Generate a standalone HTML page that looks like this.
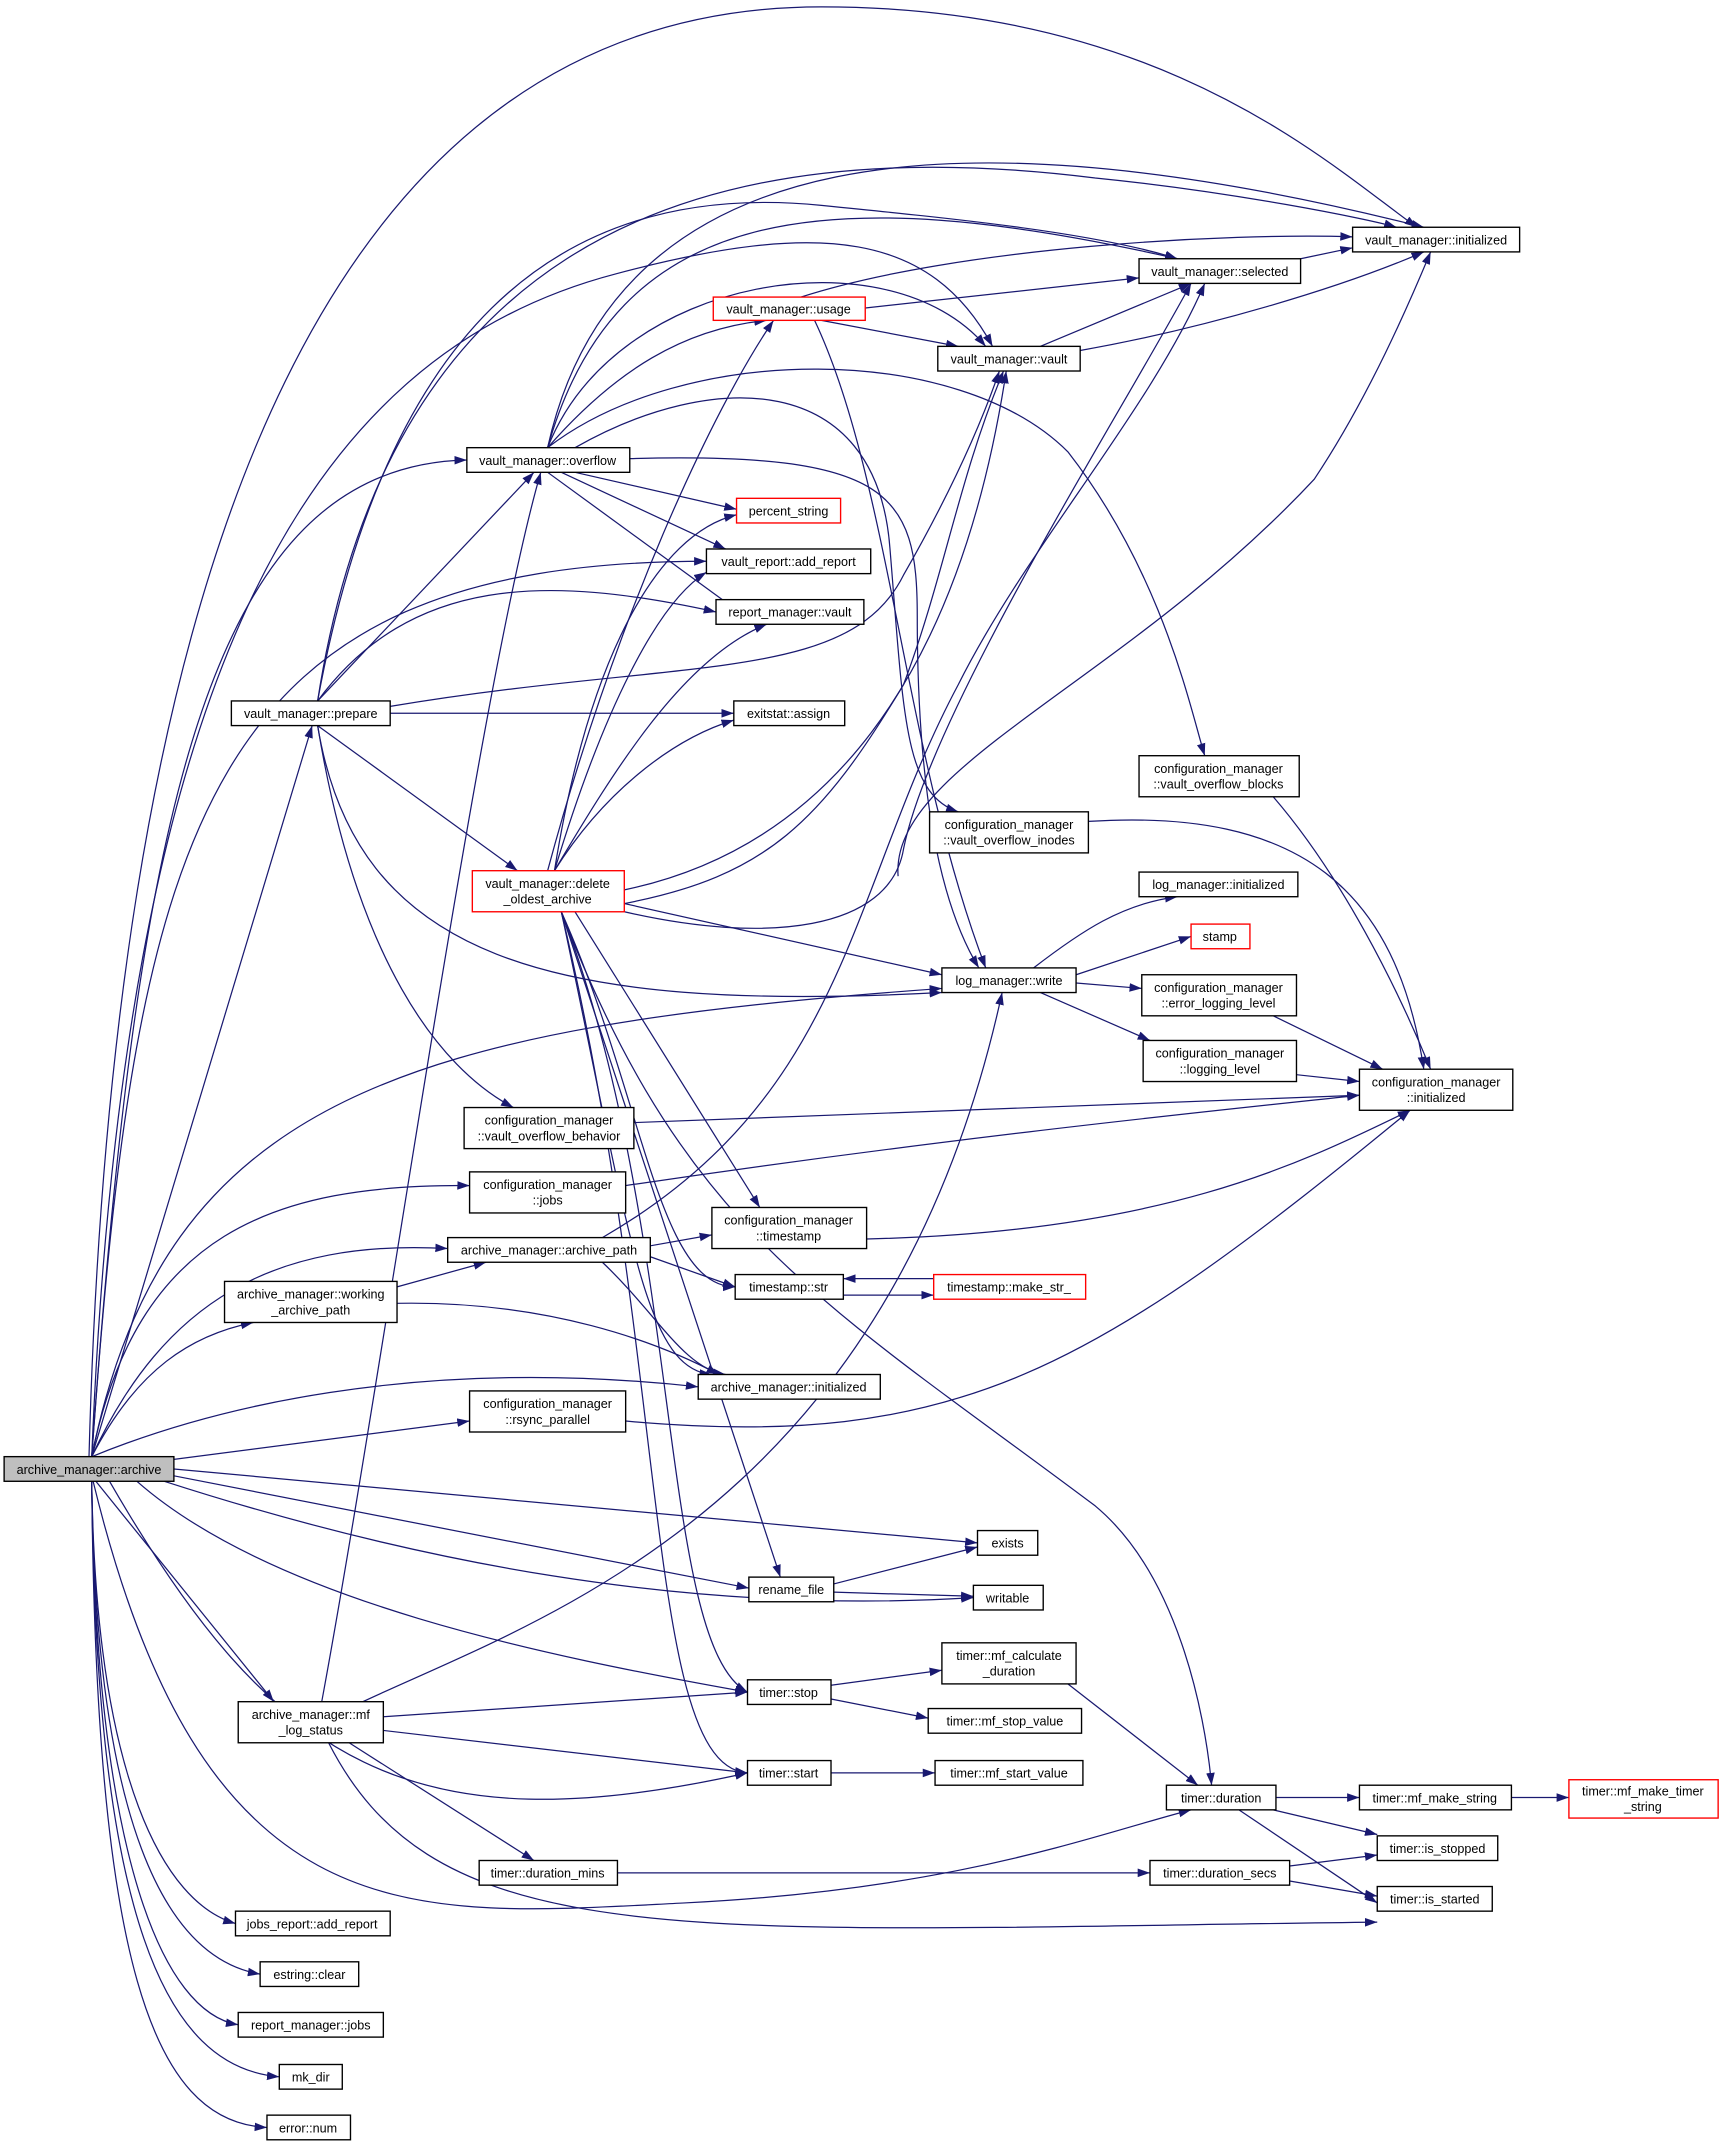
<!DOCTYPE html>
<html><head><meta charset="utf-8"><style>
html,body{margin:0;padding:0;background:#fff}
svg{display:block}
text{font-family:"Liberation Sans",Arial,sans-serif;font-size:9.2px;fill:#000}
.e{fill:none;stroke:#191970;stroke-width:0.9}
.n{fill:#fff;stroke:#000;stroke-width:1}
.r{fill:#fff;stroke:#f00;stroke-width:1}
</style></head><body>
<svg width="1725" height="2148" viewBox="0 0 1260 1569" xmlns="http://www.w3.org/2000/svg">
<defs><marker id="a" viewBox="0 0 10 10" refX="10" refY="5" markerWidth="9" markerHeight="9" markerUnits="userSpaceOnUse" orient="auto"><path d="M0,1.5 L10,5 L0,8.5z" fill="#191970"/></marker></defs>
<g class="e" marker-end="url(#a)">
<!-- from archive -->
<path d="M65,1064 C80,500 200,5 600,5 C850,5 970,120 1035,166"/>
<path d="M67,1064 C90,500 220,260 450,200 C600,160 680,170 725,253"/>
<path d="M67,1064 C100,600 150,340 341,336"/>
<path d="M67,1064 C100,600 150,410 516,410"/>
<path d="M67,1064 L228,530"/>
<path d="M67,1064 C120,800 300,750 688,722"/>
<path d="M67,1064 C100,900 200,865 343,866"/>
<path d="M67,1064 C120,950 200,905 327,912"/>
<path d="M67,1064 C100,1000 140,975 185,966"/>
<path d="M67,1064 C150,1030 300,990 510,1013"/>
<path d="M127,1066 L343,1038"/>
<path d="M127,1073 L714,1127"/>
<path d="M127,1078 L547,1160"/>
<path d="M120,1082 C300,1140 500,1180 711,1167"/>
<path d="M100,1082 C200,1170 400,1210 546,1236"/>
<path d="M80,1082 C200,1290 300,1350 546,1295"/>
<path d="M70,1082 L200,1243"/>
<path d="M68,1082 C150,1420 300,1400 500,1390 C700,1380 800,1340 870,1322"/>
<path d="M67,1082 C70,1300 120,1390 172,1405"/>
<path d="M67,1082 C70,1330 120,1430 190,1442"/>
<path d="M67,1082 C70,1360 120,1470 174,1479"/>
<path d="M67,1082 C70,1400 120,1510 204,1517"/>
<path d="M67,1082 C70,1430 110,1550 195,1554"/>
<!-- prepare -->
<path d="M232,512 C280,200 480,90 800,130 C900,140 1000,160 1020,166"/>
<path d="M232,512 C280,250 400,130 600,150 C700,160 800,170 860,189"/>
<path d="M232,512 L390,345"/>
<path d="M285,516 C500,480 620,500 660,420 C700,350 720,300 730,271"/>
<path d="M232,512 C300,420 400,420 523,447"/>
<path d="M285,521 L536,521"/>
<path d="M232,530 L378,636"/>
<path d="M232,530 C260,700 400,740 688,725"/>
<path d="M232,530 C260,700 320,780 375,809"/>
<!-- overflow -->
<path d="M400,327 C450,100 700,80 1040,166"/>
<path d="M400,327 C450,150 600,130 860,189"/>
<path d="M400,327 C450,200 650,170 720,253"/>
<path d="M400,327 C450,270 500,240 560,234"/>
<path d="M420,345 L538,372"/>
<path d="M410,345 L530,401"/>
<path d="M400,345 L540,447"/>
<path d="M400,327 C500,250 700,250 780,330 C850,420 870,520 880,552"/>
<path d="M460,335 C650,330 670,360 670,450 C670,550 680,650 715,707"/>
<path d="M420,327 C520,270 640,270 650,400 C660,520 660,580 700,593"/>
<!-- usage -->
<path d="M632,225 L832,203"/>
<path d="M600,234 L700,253"/>
<path d="M585,217 C700,180 900,170 988,173"/>
<path d="M595,234 C650,350 660,550 720,707"/>
<!-- selected / vault -->
<path d="M950,189 L988,181"/>
<path d="M760,253 L870,207"/>
<path d="M789,256 C880,240 980,210 1040,184"/>
<!-- delete oldest -->
<path d="M400,636 C450,450 520,300 565,234"/>
<path d="M456,650 C600,620 700,500 735,271"/>
<path d="M456,666 C560,690 650,680 660,620 C680,520 820,300 870,207"/>
<path d="M456,660 C560,640 600,600 660,500 C690,420 700,350 733,271"/>
<path d="M405,636 C430,480 480,390 538,376"/>
<path d="M405,636 C440,520 480,440 516,418"/>
<path d="M405,636 C450,560 500,480 560,456"/>
<path d="M405,636 C440,580 490,540 536,526"/>
<path d="M456,660 L688,712"/>
<path d="M420,666 L555,882"/>
<path d="M410,666 C470,800 480,940 537,940"/>
<path d="M410,666 C460,900 470,1000 520,1004"/>
<path d="M410,666 L570,1152"/>
<path d="M410,666 C500,900 480,1200 546,1236"/>
<path d="M410,666 C490,1000 470,1290 546,1295"/>
<path d="M410,666 C500,900 600,950 800,1100 C860,1150 880,1250 885,1304"/>
<!-- archive_path etc -->
<path d="M440,904 C620,800 620,650 700,500 C750,400 840,300 880,207"/>
<path d="M475,910 L520,902"/>
<path d="M475,918 L537,940"/>
<path d="M440,922 C480,960 500,1000 530,1004"/>
<path d="M290,940 L355,922"/>
<path d="M290,952 C400,950 480,980 525,1004"/>
<path d="M682,934 L616,934"/>
<path d="M616,946 L682,946"/>
<path d="M457,866 C700,830 900,810 993,800"/>
<path d="M463,820 L993,800"/>
<path d="M633,905 C850,900 950,850 1030,811"/>
<path d="M457,1038 C700,1060 800,1000 1030,811"/>
<path d="M930,582 C980,640 1020,720 1045,781"/>
<path d="M795,600 C950,590 1020,650 1040,781"/>
<path d="M930,742 L1010,781"/>
<path d="M947,785 L993,790"/>
<path d="M656,640 C650,560 820,500 960,350 C1000,290 1030,220 1045,184"/>
<!-- log write -->
<path d="M755,707 C790,680 820,660 860,655"/>
<path d="M786,712 L870,684"/>
<path d="M786,718 L834,722"/>
<path d="M760,725 L840,760"/>
<!-- misc -->
<path d="M609,1157 L714,1130"/>
<path d="M609,1163 L711,1166"/>
<path d="M235,1243 C280,1000 350,500 395,345"/>
<path d="M265,1243 C400,1180 650,1100 732,725"/>
<path d="M280,1254 L546,1236"/>
<path d="M280,1264 L546,1295"/>
<path d="M255,1273 L390,1359"/>
<path d="M240,1273 C320,1430 500,1410 1006,1404"/>
<path d="M607,1231 L688,1220"/>
<path d="M607,1241 L678,1255"/>
<path d="M607,1295 L683,1295"/>
<path d="M780,1230 L875,1304"/>
<path d="M932,1313 L993,1313"/>
<path d="M1104,1313 L1146,1313"/>
<path d="M930,1322 L1006,1340"/>
<path d="M905,1322 L1006,1390"/>
<path d="M451,1368 L840,1368"/>
<path d="M942,1363 L1006,1355"/>
<path d="M942,1374 L1006,1385"/>
</g>
<g>
<rect x="3" y="1064" width="124" height="18" fill="#bfbfbf" stroke="#000"/><text x="65" y="1076.5" text-anchor="middle">archive_manager::archive</text>
<rect class="n" x="988" y="166" width="122" height="18"/><text x="1049" y="178.5" text-anchor="middle">vault_manager::initialized</text>
<rect class="n" x="832" y="189" width="118" height="18"/><text x="891" y="201.5" text-anchor="middle">vault_manager::selected</text>
<rect class="r" x="521" y="217" width="111" height="17"/><text x="576" y="229" text-anchor="middle">vault_manager::usage</text>
<rect class="n" x="685" y="253" width="104" height="18"/><text x="737" y="265.5" text-anchor="middle">vault_manager::vault</text>
<rect class="n" x="341" y="327" width="119" height="18"/><text x="400" y="339.5" text-anchor="middle">vault_manager::overflow</text>
<rect class="r" x="538" y="364" width="76" height="18"/><text x="576" y="376.5" text-anchor="middle">percent_string</text>
<rect class="n" x="516" y="401" width="120" height="18"/><text x="576" y="413.5" text-anchor="middle">vault_report::add_report</text>
<rect class="n" x="523" y="438" width="108" height="18"/><text x="577" y="450.5" text-anchor="middle">report_manager::vault</text>
<rect class="n" x="169" y="512" width="116" height="18"/><text x="227" y="524.5" text-anchor="middle">vault_manager::prepare</text>
<rect class="n" x="536" y="512" width="81" height="18"/><text x="576" y="524.5" text-anchor="middle">exitstat::assign</text>
<rect class="n" x="832" y="552" width="117" height="30"/><text x="890" y="564.5" text-anchor="middle">configuration_manager</text><text x="890" y="576" text-anchor="middle">::vault_overflow_blocks</text>
<rect class="n" x="679" y="593" width="116" height="30"/><text x="737" y="605.5" text-anchor="middle">configuration_manager</text><text x="737" y="617" text-anchor="middle">::vault_overflow_inodes</text>
<rect class="r" x="345" y="636" width="111" height="30"/><text x="400" y="648.5" text-anchor="middle">vault_manager::delete</text><text x="400" y="660" text-anchor="middle">_oldest_archive</text>
<rect class="n" x="832" y="637" width="116" height="18"/><text x="890" y="649.5" text-anchor="middle">log_manager::initialized</text>
<rect class="r" x="870" y="675" width="43" height="18"/><text x="891" y="687.5" text-anchor="middle">stamp</text>
<rect class="n" x="688" y="707" width="98" height="18"/><text x="737" y="719.5" text-anchor="middle">log_manager::write</text>
<rect class="n" x="834" y="712" width="113" height="30"/><text x="890" y="724.5" text-anchor="middle">configuration_manager</text><text x="890" y="736" text-anchor="middle">::error_logging_level</text>
<rect class="n" x="835" y="760" width="112" height="30"/><text x="891" y="772.5" text-anchor="middle">configuration_manager</text><text x="891" y="784" text-anchor="middle">::logging_level</text>
<rect class="n" x="993" y="781" width="112" height="30"/><text x="1049" y="793.5" text-anchor="middle">configuration_manager</text><text x="1049" y="805" text-anchor="middle">::initialized</text>
<rect class="n" x="339" y="809" width="124" height="30"/><text x="401" y="821.5" text-anchor="middle">configuration_manager</text><text x="401" y="833" text-anchor="middle">::vault_overflow_behavior</text>
<rect class="n" x="343" y="856" width="114" height="30"/><text x="400" y="868.5" text-anchor="middle">configuration_manager</text><text x="400" y="880" text-anchor="middle">::jobs</text>
<rect class="n" x="520" y="882" width="113" height="30"/><text x="576" y="894.5" text-anchor="middle">configuration_manager</text><text x="576" y="906" text-anchor="middle">::timestamp</text>
<rect class="n" x="327" y="904" width="148" height="18"/><text x="401" y="916.5" text-anchor="middle">archive_manager::archive_path</text>
<rect class="n" x="164" y="936" width="126" height="30"/><text x="227" y="948.5" text-anchor="middle">archive_manager::working</text><text x="227" y="960" text-anchor="middle">_archive_path</text>
<rect class="n" x="537" y="931" width="79" height="18"/><text x="576" y="943.5" text-anchor="middle">timestamp::str</text>
<rect class="r" x="682" y="931" width="111" height="18"/><text x="737" y="943.5" text-anchor="middle">timestamp::make_str_</text>
<rect class="n" x="510" y="1004" width="133" height="18"/><text x="576" y="1016.5" text-anchor="middle">archive_manager::initialized</text>
<rect class="n" x="343" y="1016" width="114" height="30"/><text x="400" y="1028.5" text-anchor="middle">configuration_manager</text><text x="400" y="1040" text-anchor="middle">::rsync_parallel</text>
<rect class="n" x="714" y="1118" width="44" height="18"/><text x="736" y="1130.5" text-anchor="middle">exists</text>
<rect class="n" x="547" y="1152" width="62" height="18"/><text x="578" y="1164.5" text-anchor="middle">rename_file</text>
<rect class="n" x="711" y="1158" width="51" height="18"/><text x="736" y="1170.5" text-anchor="middle">writable</text>
<rect class="n" x="688" y="1200" width="98" height="30"/><text x="737" y="1212.5" text-anchor="middle">timer::mf_calculate</text><text x="737" y="1224" text-anchor="middle">_duration</text>
<rect class="n" x="174" y="1243" width="106" height="30"/><text x="227" y="1255.5" text-anchor="middle">archive_manager::mf</text><text x="227" y="1267" text-anchor="middle">_log_status</text>
<rect class="n" x="546" y="1227" width="61" height="18"/><text x="576" y="1239.5" text-anchor="middle">timer::stop</text>
<rect class="n" x="678" y="1248" width="112" height="18"/><text x="734" y="1260.5" text-anchor="middle">timer::mf_stop_value</text>
<rect class="n" x="546" y="1286" width="61" height="18"/><text x="576" y="1298.5" text-anchor="middle">timer::start</text>
<rect class="n" x="683" y="1286" width="108" height="18"/><text x="737" y="1298.5" text-anchor="middle">timer::mf_start_value</text>
<rect class="n" x="852" y="1304" width="80" height="18"/><text x="892" y="1316.5" text-anchor="middle">timer::duration</text>
<rect class="n" x="993" y="1304" width="111" height="18"/><text x="1048" y="1316.5" text-anchor="middle">timer::mf_make_string</text>
<rect class="r" x="1146" y="1300" width="109" height="28"/><text x="1200" y="1311.5" text-anchor="middle">timer::mf_make_timer</text><text x="1200" y="1323" text-anchor="middle">_string</text>
<rect class="n" x="350" y="1359" width="101" height="18"/><text x="400" y="1371.5" text-anchor="middle">timer::duration_mins</text>
<rect class="n" x="840" y="1359" width="102" height="18"/><text x="891" y="1371.5" text-anchor="middle">timer::duration_secs</text>
<rect class="n" x="1006" y="1341" width="88" height="18"/><text x="1050" y="1353.5" text-anchor="middle">timer::is_stopped</text>
<rect class="n" x="1006" y="1378" width="84" height="18"/><text x="1048" y="1390.5" text-anchor="middle">timer::is_started</text>
<rect class="n" x="172" y="1396" width="113" height="18"/><text x="228" y="1408.5" text-anchor="middle">jobs_report::add_report</text>
<rect class="n" x="190" y="1433" width="72" height="18"/><text x="226" y="1445.5" text-anchor="middle">estring::clear</text>
<rect class="n" x="174" y="1470" width="106" height="18"/><text x="227" y="1482.5" text-anchor="middle">report_manager::jobs</text>
<rect class="n" x="204" y="1508" width="46" height="18"/><text x="227" y="1520.5" text-anchor="middle">mk_dir</text>
<rect class="n" x="195" y="1545" width="61" height="18"/><text x="225" y="1557.5" text-anchor="middle">error::num</text>
</g>
</svg>
</body></html>
